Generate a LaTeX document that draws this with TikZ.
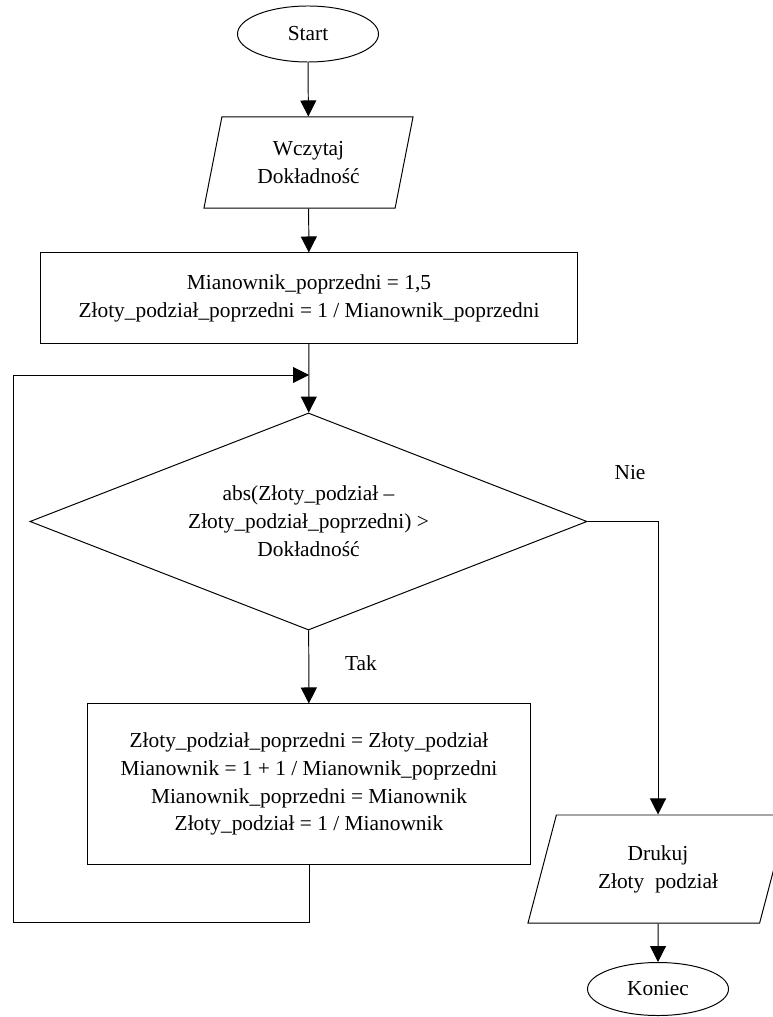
\documentclass[tikz,border=0pt]{standalone}
\usepackage{fontspec}
\setmainfont{Liberation Serif}
\usepackage{tikz}
\usetikzlibrary{shapes.geometric, arrows.meta}

\begin{document}
\begin{tikzpicture}[x=0.025cm, y=-0.025cm,
    font=\fontsize{15.2}{19.8}\selectfont, line width=0.7pt,
    startstop/.style={draw, ellipse, inner sep=0pt, minimum width=3.525cm, minimum height=1.4cm},
    io/.style={draw, trapezium, trapezium stretches body, inner sep=0pt, align=center},
    process/.style={draw, rectangle, inner sep=0pt, align=center},
    decision/.style={draw, diamond, aspect=2.57, inner sep=0pt, align=center, minimum width=13.925cm, minimum height=5.425cm},
    flow/.style={-{Triangle[length=0.4cm, width=0.4cm]}}]
    \useasboundingbox (0,0) rectangle (772,1017);

    % Start
    \node[startstop] (start) at (308, 34) {Start};
    \node[io, trapezium left angle=67, trapezium right angle=113,
          minimum width=5.225cm, minimum height=2.275cm] (read) at (308.5, 162.5)
        {Wczytaj\\Dokładność};
    \node[process, minimum width=13.4cm, minimum height=2.25cm] (init) at (309, 298)
        {Mianownik\_poprzedni = 1,5\\Złoty\_podział\_poprzedni = 1 / Mianownik\_poprzedni};

    % Loop
    \coordinate (join) at (309, 375);
    \node[decision] (cond) at (308.5, 521.5)
        {abs(Złoty\_podział –\\Złoty\_podział\_poprzedni) >\\Dokładność};
    \node[process, minimum width=11.05cm, minimum height=4cm] (body) at (309, 784)
        {Złoty\_podział\_poprzedni = Złoty\_podział\\Mianownik = 1 + 1 / Mianownik\_poprzedni\\Mianownik\_poprzedni = Mianownik\\Złoty\_podział = 1 / Mianownik};
    \coordinate (back) at (13, 922);
    \coordinate (up) at (13, 375);

    % Output
    \node[io, trapezium left angle=59, trapezium right angle=121,
          minimum width=6.5cm, minimum height=2.7cm] (print) at (658, 869)
        {Drukuj\\Złoty~ podział};
    \node[startstop, minimum height=1.325cm] (end) at (658, 989) {Koniec};

    % Connectors
    \draw[flow] (start) -- (read);
    \draw[flow] (read) -- (init);
    \draw[flow] (init) -- (cond);
    \draw[flow] (cond) -- (body);
    \draw[flow] (body.south) |- (back) -- (up) -- (join);
    \draw[flow] (cond.east) -| (print.north);
    \draw[flow] (print) -- (end);

    % Labels
    \node (nie) at (630, 473) {Nie};
    \node (tak) at (361, 663) {Tak};
\end{tikzpicture}
\end{document}
